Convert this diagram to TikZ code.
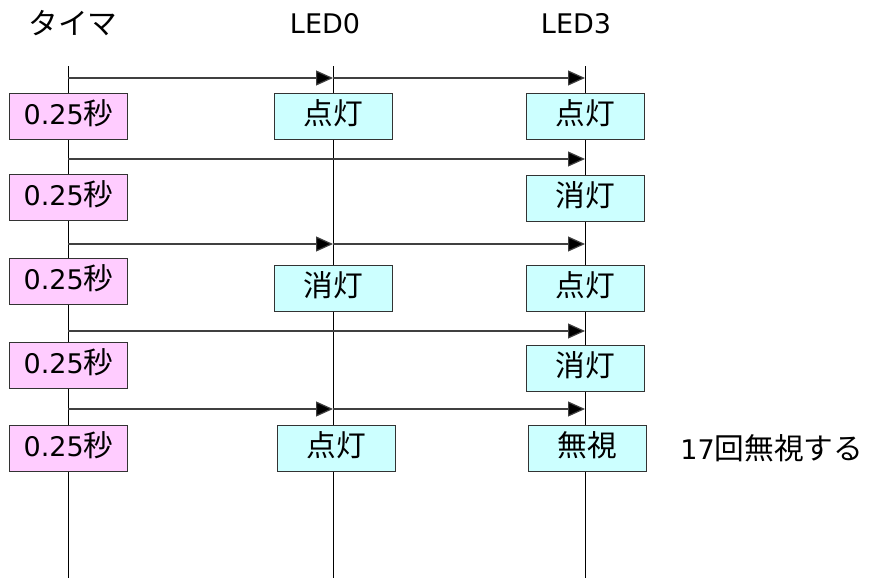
\documentclass[tikz,border=0pt]{standalone}
\usepackage{fontspec}
\setmainfont{DejaVu Sans}
\newfontfamily\jp[Scale=1.1]{Noto Sans CJK JP}
\usepackage{tikz}
\usetikzlibrary{arrows.meta,positioning}
\definecolor{rosa}{HTML}{FFCCFF}
\definecolor{celeste}{HTML}{CCFFFF}
\definecolor{borde}{HTML}{333333}
\definecolor{flecha}{HTML}{404040}

\begin{document}
\begin{tikzpicture}[x=1pt,y=-1pt,
    caja/.style={draw=borde,line width=0.9pt,minimum width=118pt,minimum height=46pt,
                 inner sep=0pt,text height=22pt,text depth=6pt,
                 font=\fontsize{27}{30}\selectfont},
    timer/.style={caja,fill=rosa},
    led/.style={caja,fill=celeste},
    titulo/.style={font=\fontsize{27}{30}\selectfont},
    vida/.style={black,line width=0.9pt},
    msg/.style={flecha,line width=1.2pt,-{Triangle[length=17pt,width=15pt,fill=black]}}]
  \useasboundingbox (0,0) rectangle (869,578);
  % cabeceras y lineas de vida
  \node[titulo] (hTimer) at (73,23) {\jp タイマ};
  \node[titulo] (hLed0) at (325,24) {LED0};
  \node[titulo] (hLed3) at (576,24) {LED3};
  \coordinate (vT) at (68,66);  \coordinate (vTend) at (68,578);
  \coordinate (vA) at (333,66); \coordinate (vAend) at (333,578);
  \coordinate (vB) at (585,66); \coordinate (vBend) at (585,578);
  \draw[vida] (vT) -- (vTend);
  \draw[vida] (vA) -- (vAend);
  \draw[vida] (vB) -- (vBend);
  % mensajes
  \foreach \y [count=\i] in {78,159,244,331,409} {
    \coordinate (t\i) at (68,\y);
    \coordinate (a\i) at (333,\y);
    \coordinate (b\i) at (585,\y);
  }
  \foreach \i in {1,3,5} {
    \draw[msg] (t\i) -- (a\i);
    \draw[msg] (a\i) -- (b\i);
  }
  \foreach \i in {2,4} \draw[msg] (t\i) -- (b\i);
  % temporizador
  \foreach \y [count=\i] in {116,197,281.5,365,448}
    \node[timer] (tbox\i) at (68.5,\y) {0.25{\jp 秒}};
  % LED0
  \node[led] (abox1) at (333,116) {\jp 点灯};
  \node[led] (abox3) at (333,288) {\jp 消灯};
  \node[led] (abox5) at (336,448) {\jp 点灯};
  % LED3
  \node[led] (bbox1) at (585,116) {\jp 点灯};
  \node[led] (bbox2) at (585,198) {\jp 消灯};
  \node[led] (bbox3) at (585,288) {\jp 点灯};
  \node[led] (bbox4) at (585,368.5) {\jp 消灯};
  \node[led] (bbox5) at (587.5,448) {\jp 無視};
  \node[titulo,right=30pt of bbox5] (nota) {17{\jp 回無視する}};
\end{tikzpicture}
\end{document}
